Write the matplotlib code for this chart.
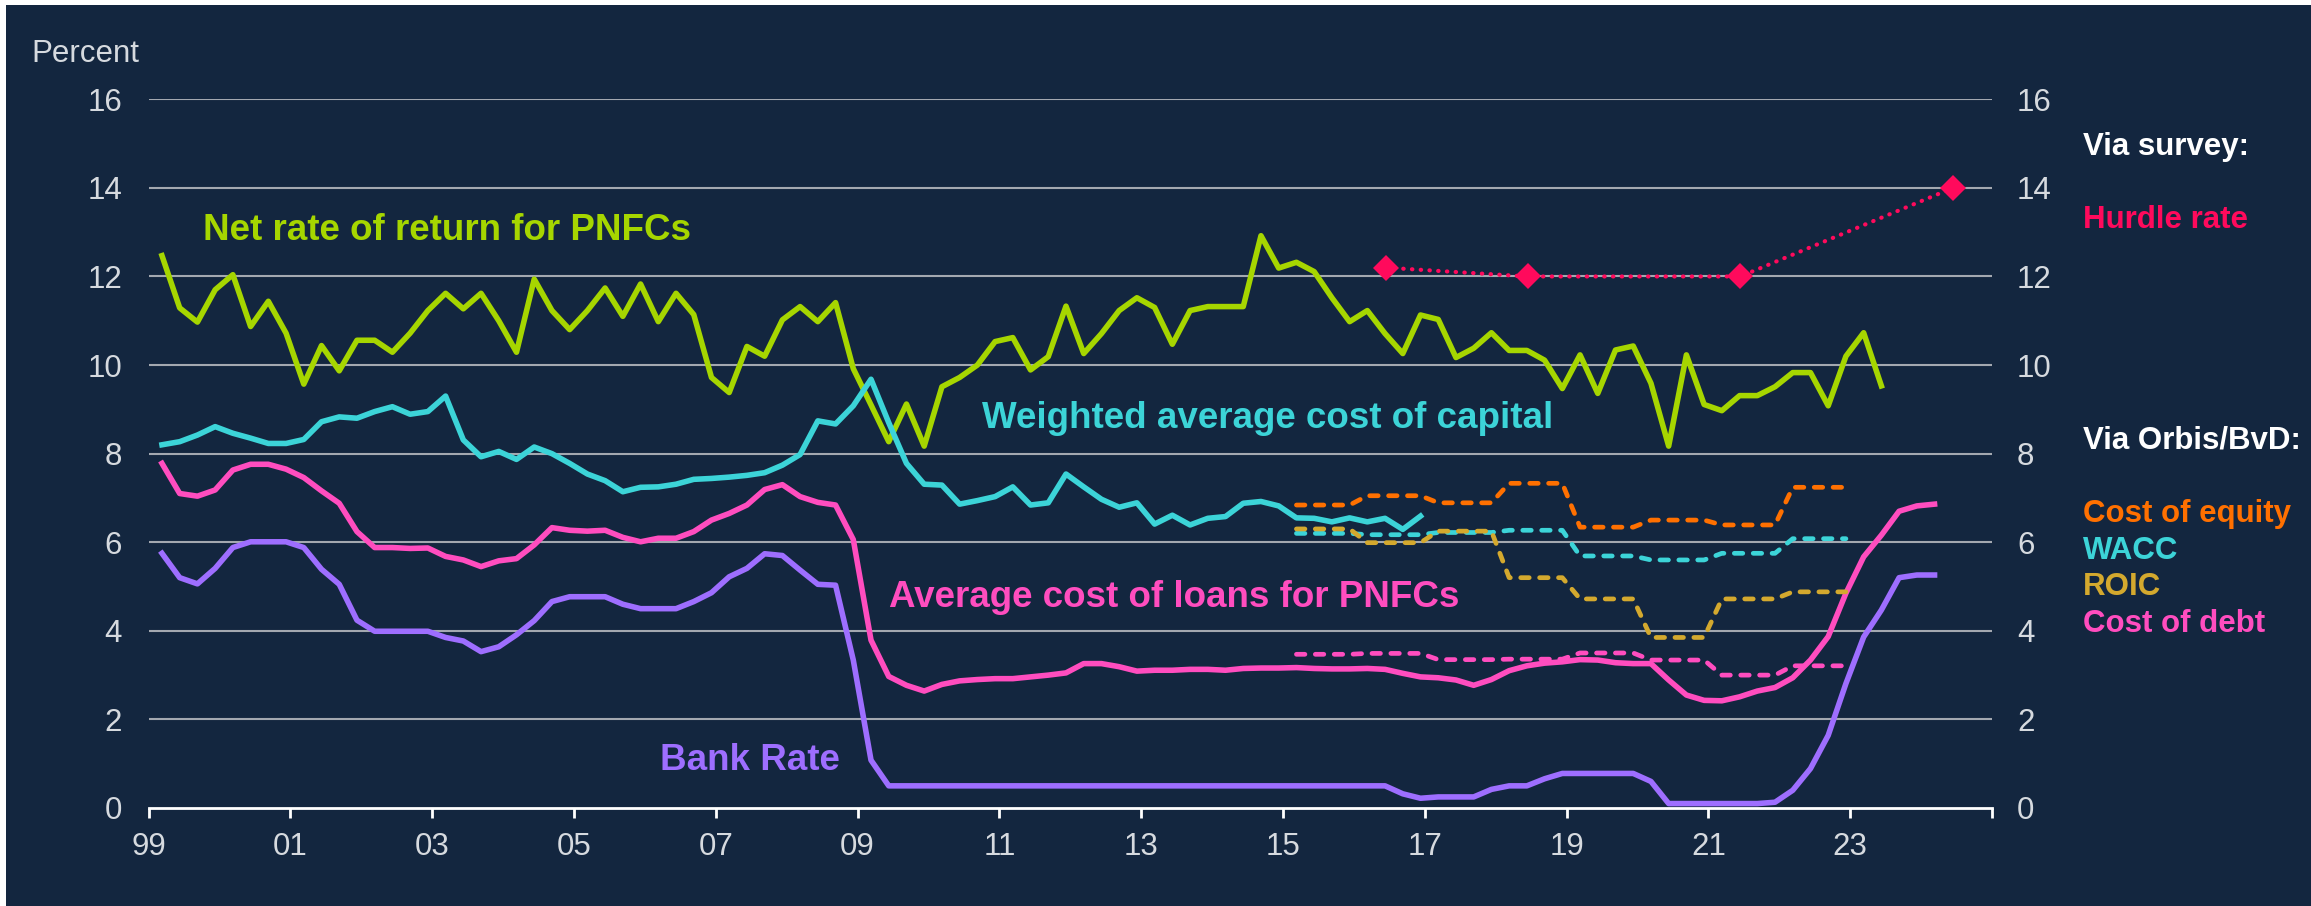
import numpy as np
import pandas as pd
import matplotlib
matplotlib.use('Agg')
import matplotlib.pyplot as plt
from matplotlib.patches import Rectangle

plt.rcParams['font.family'] = ['Liberation Sans', 'DejaVu Sans']

# quarterly series, 1999 Q1 onwards
net_return = [12.47, 11.29, 10.97, 11.70, 12.04, 10.87, 11.44, 10.72, 9.57, 10.44,
              9.87, 10.56, 10.56, 10.29, 10.72, 11.23, 11.62, 11.27, 11.62, 11.00,
              10.29, 11.94, 11.23, 10.80, 11.23, 11.74, 11.10, 11.83, 10.98, 11.62,
              11.14, 9.72, 9.38, 10.42, 10.20, 11.02, 11.32, 10.98, 11.41, 9.92,
              9.10, 8.27, 9.12, 8.17, 9.51, 9.72, 10.00, 10.53, 10.62, 9.89,
              10.19, 11.33, 10.26, 10.71, 11.23, 11.52, 11.30, 10.47, 11.23, 11.32,
              11.32, 11.32, 12.92, 12.19, 12.32, 12.11, 11.52, 10.98, 11.23, 10.71,
              10.26, 11.13, 11.03, 10.17, 10.38, 10.73, 10.33, 10.33, 10.11, 9.47,
              10.23, 9.36, 10.34, 10.43, 9.59, 8.17, 10.23, 9.11, 8.97, 9.31,
              9.31, 9.51, 9.83, 9.83, 9.08, 10.20, 10.73, 9.53]

wacc = [8.20, 8.27, 8.42, 8.61, 8.46, 8.35, 8.23, 8.23, 8.32, 8.72,
        8.83, 8.80, 8.95, 9.06, 8.89, 8.95, 9.30, 8.31, 7.93, 8.05,
        7.87, 8.15, 8.00, 7.78, 7.54, 7.39, 7.14, 7.24, 7.25, 7.31,
        7.42, 7.44, 7.47, 7.51, 7.57, 7.74, 7.98, 8.74, 8.67, 9.08,
        9.68, 8.70, 7.78, 7.31, 7.29, 6.86, 6.94, 7.03, 7.25, 6.84,
        6.89, 7.54, 7.25, 6.97, 6.79, 6.89, 6.41, 6.61, 6.39, 6.54,
        6.58, 6.88, 6.92, 6.82, 6.55, 6.54, 6.46, 6.55, 6.46, 6.54,
        6.29, 6.59]

loan_cost = [7.78, 7.10, 7.04, 7.18, 7.63, 7.76, 7.76, 7.65, 7.46, 7.16,
             6.88, 6.24, 5.88, 5.88, 5.86, 5.87, 5.68, 5.60, 5.45, 5.58,
             5.63, 5.94, 6.33, 6.27, 6.25, 6.27, 6.11, 6.01, 6.09, 6.09,
             6.24, 6.50, 6.65, 6.84, 7.19, 7.30, 7.03, 6.90, 6.84, 6.06,
             3.79, 2.97, 2.77, 2.64, 2.79, 2.87, 2.90, 2.92, 2.92, 2.96,
             3.00, 3.05, 3.26, 3.26, 3.19, 3.09, 3.11, 3.11, 3.13, 3.13,
             3.11, 3.15, 3.16, 3.16, 3.17, 3.15, 3.14, 3.14, 3.15, 3.13,
             3.04, 2.96, 2.94, 2.89, 2.77, 2.90, 3.10, 3.21, 3.27, 3.30,
             3.35, 3.34, 3.28, 3.26, 3.26, 2.89, 2.55, 2.43, 2.42, 2.51,
             2.64, 2.72, 2.94, 3.34, 3.87, 4.85, 5.67, 6.16, 6.70, 6.82,
             6.86]

bank_rate = [5.75, 5.20, 5.06, 5.41, 5.88, 6.01, 6.01, 6.01, 5.88, 5.39,
             5.05, 4.24, 3.99, 3.99, 3.99, 3.99, 3.85, 3.77, 3.53, 3.64,
             3.91, 4.23, 4.66, 4.77, 4.77, 4.77, 4.60, 4.50, 4.50, 4.50,
             4.66, 4.86, 5.22, 5.41, 5.74, 5.70, 5.37, 5.05, 5.03, 3.34,
             1.08, 0.50, 0.50, 0.50, 0.50, 0.50, 0.50, 0.50, 0.50, 0.50,
             0.50, 0.50, 0.50, 0.50, 0.50, 0.50, 0.50, 0.50, 0.50, 0.50,
             0.50, 0.50, 0.50, 0.50, 0.50, 0.50, 0.50, 0.50, 0.50, 0.50,
             0.32, 0.22, 0.25, 0.25, 0.25, 0.42, 0.50, 0.50, 0.66, 0.78,
             0.78, 0.78, 0.78, 0.78, 0.60, 0.10, 0.10, 0.10, 0.10, 0.10,
             0.10, 0.13, 0.40, 0.89, 1.64, 2.81, 3.86, 4.47, 5.20, 5.26,
             5.26]

# Orbis/BvD annual estimates, 2015-2022
orbis_years = [2015, 2016, 2017, 2018, 2019, 2020, 2021, 2022]
cost_of_equity = [6.84, 7.05, 6.89, 7.33, 6.34, 6.50, 6.39, 7.24]
orbis_wacc = [6.20, 6.17, 6.22, 6.27, 5.69, 5.60, 5.75, 6.08]
roic = [6.30, 5.99, 6.25, 5.20, 4.72, 3.85, 4.72, 4.88]
cost_of_debt = [3.47, 3.49, 3.35, 3.36, 3.50, 3.34, 3.00, 3.21]

# survey hurdle rate
hurdle_dates = [2016.45, 2018.45, 2021.45, 2024.45]
hurdle_rate = [12.2, 12.0, 12.0, 14.0]

xtick_years = list(range(1999, 2026, 2))
xtick_labels = ['99', '01', '03', '05', '07', '09', '11', '13', '15', '17', '19', '21', '23', '']

BG = '#13263f'
GREEN = '#a6d600'
CYAN = '#3cd4d8'
PINK = '#ff4dbf'
PURPLE = '#9e6eff'
ORANGE = '#ff7000'
GOLD = '#d4a92e'
RED = '#ff0a5c'
TXT = '#d6dadf'


def quarter_pos(start, n):
    q = pd.period_range(start, periods=n, freq='Q')
    return q.year + (q.quarter - 1) / 4 + 0.19


fig = plt.figure(figsize=(23.11, 9.06), dpi=100, facecolor='white')
fig.patches.append(Rectangle((6 / 2311, 0), 1, 1 - 4.5 / 906, transform=fig.transFigure,
                             facecolor=BG, edgecolor='none', zorder=-10))

ax = fig.add_axes([0.06426, 0.10817, 0.7977, 0.78223])
ax.set_facecolor('none')
ax.set_xlim(1999, 2025)
ax.set_ylim(0, 16)

lw = 4.0
ax.plot(quarter_pos('1999Q1', len(net_return)), net_return, color=GREEN, lw=lw, zorder=3)
ax.plot(quarter_pos('1999Q1', len(wacc)), wacc, color=CYAN, lw=lw, zorder=3)
ax.plot(quarter_pos('1999Q1', len(loan_cost)), loan_cost, color=PINK, lw=lw, zorder=3)
ax.plot(quarter_pos('1999Q1', len(bank_rate)), bank_rate, color=PURPLE, lw=lw, zorder=3)

oq = quarter_pos('2015Q1', 4 * len(orbis_years))
for vals, col in [(cost_of_equity, ORANGE), (orbis_wacc, CYAN), (roic, GOLD), (cost_of_debt, PINK)]:
    ax.plot(oq, np.repeat(vals, 4), color=col, lw=3.4, ls=(0, (1.8, 2.2)),
            dash_capstyle='round', zorder=3)

ax.plot(hurdle_dates, hurdle_rate, color=RED, lw=3.0, ls=(0, (0.1, 2.0)),
        dash_capstyle='round', marker='D', markersize=13.5, markeredgewidth=0, zorder=4)

# axes styling
for s in ['left', 'right', 'top']:
    ax.spines[s].set_visible(False)
ax.spines['bottom'].set_color('white')
ax.spines['bottom'].set_linewidth(2)
ax.spines['bottom'].set_zorder(5)
ax.set_xticks(xtick_years)
ax.set_xticklabels(xtick_labels)
ax.tick_params(axis='x', colors='white', direction='out', length=7, width=2,
               labelcolor=TXT, labelsize=22.5, pad=10)
ax.set_yticks(range(0, 17, 2))
ax.tick_params(axis='y', length=0, labelcolor=TXT, labelsize=22.5, pad=19)
for v in range(2, 17, 2):
    ax.axhline(v, color='#a3a8b0', lw=1.5, zorder=1)

ax2 = ax.twinx()
ax2.set_ylim(0, 16)
ax2.set_yticks(range(0, 17, 2))
ax2.tick_params(axis='y', length=0, labelcolor=TXT, labelsize=22.5, pad=18)
for s in ax2.spines.values():
    s.set_visible(False)

fig.text(0.0137, 0.9319, 'Percent', color=TXT, fontsize=22.5, va='baseline')

# series labels
lab = dict(fontsize=26.5, fontweight='bold', va='baseline', ha='left')
ax.text(1999.77, 12.82, 'Net rate of return for PNFCs', color=GREEN, **lab)
ax.text(2010.75, 8.58, 'Weighted average cost of capital', color=CYAN, **lab)
ax.text(2009.44, 4.54, 'Average cost of loans for PNFCs', color=PINK, **lab)
ax.text(2006.22, 0.86, 'Bank Rate', color=PURPLE, **lab)

# key on the right
key = dict(fontsize=22.5, fontweight='bold', va='baseline', ha='left')
kx = 0.9013
fig.text(kx, 0.8289, 'Via survey:', color='white', **key)
fig.text(kx, 0.7487, 'Hurdle rate', color=RED, **key)
fig.text(kx, 0.5055, 'Via Orbis/BvD:', color='white', **key)
fig.text(kx, 0.4242, 'Cost of equity', color=ORANGE, **key)
fig.text(kx, 0.3830, 'WACC', color=CYAN, **key)
fig.text(kx, 0.3433, 'ROIC', color=GOLD, **key)
fig.text(kx, 0.3028, 'Cost of debt', color=PINK, **key)

fig.savefig('out.png', dpi=100, facecolor=fig.get_facecolor())
